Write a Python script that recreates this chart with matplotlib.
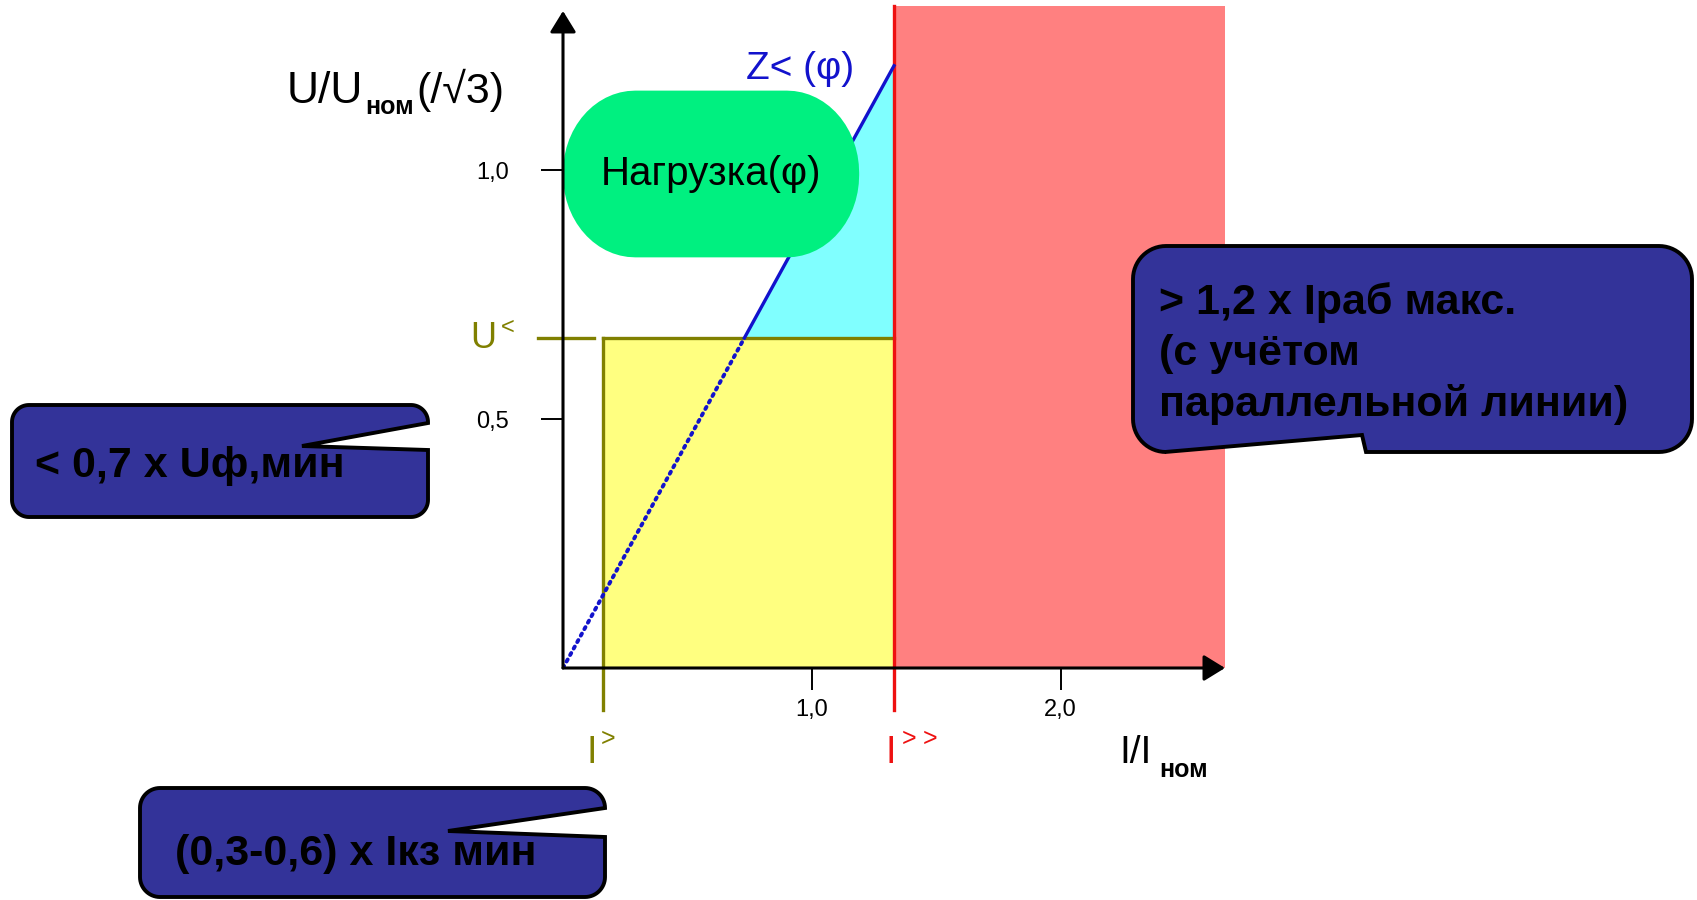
import numpy as np
import matplotlib
matplotlib.use('Agg')
import matplotlib.pyplot as plt
from matplotlib.patches import Polygon, Rectangle

plt.rcParams['font.family'] = ['Liberation Sans', 'DejaVu Sans']

W, H = 1697, 900

# settings in per-unit of nominal values
i_low = 0.16          # I>
i_high = 1.33         # I>>
u_low = 0.663         # U<
z_at_i_high = 1.21    # Z<(phi) characteristic at I>>
x_end = 2.66
y_end = 1.33

x_ticks = [1.0, 2.0]
x_tick_labels = ['1,0', '2,0']
y_ticks = [0.5, 1.0]
y_tick_labels = ['0,5', '1,0']

load_x = [0.0, 1.19]
load_y = [0.825, 1.16]

left_note = '< 0,7 x Uф,мин'
bottom_note = '(0,3-0,6) x Iкз мин'
right_note = ['> 1,2 x Iраб макс.', '(с учётом', 'параллельной линии)']

RED_FILL = '#FF8080'
RED = '#EE1111'
OLIVE = '#808000'
BLUE = '#1212CC'
CYAN = '#80FFFF'
YELLOW = '#FFFF80'
GREEN = '#00F080'
NAVY = '#333399'


def rounded(x0, y0, x1, y1, rx, ry, notch=None, after=None):
    # rectangle with elliptic corners, optional notch inserted after a corner
    centers = [(x1 - rx, y0 + ry, -90), (x1 - rx, y1 - ry, 0),
               (x0 + rx, y1 - ry, 90), (x0 + rx, y0 + ry, 180)]
    pts = []
    for i, (cx, cy, a) in enumerate(centers):
        t = np.radians(np.linspace(a, a + 90, 16))
        pts += list(zip(cx + rx * np.cos(t), cy + ry * np.sin(t)))
        if notch is not None and i == after:
            pts += notch
    return pts


fig = plt.figure(figsize=(W / 100, H / 100), dpi=100)

# main axes: origin at pixel (563, 668)
ax = fig.add_axes([563 / W, (H - 668) / H, (1225 - 563) / W, (668 - 6) / H])
ax.set_xlim(0, x_end)
ax.set_ylim(0, y_end)
ax.patch.set_visible(False)
for sp in ax.spines.values():
    sp.set_visible(False)

ax.set_xticks(x_ticks, x_tick_labels)
ax.set_yticks(y_ticks, y_tick_labels)
ax.tick_params(direction='out', length=16, width=1.4, labelsize=17, color='black')
ax.tick_params(axis='x', pad=6)
ax.tick_params(axis='y', pad=23)

# zones
slope = z_at_i_high / i_high
x_cross = u_low / slope
ax.add_patch(Rectangle((i_high, 0), x_end - i_high, y_end, fc=RED_FILL, ec='none',
                       zorder=1, clip_on=False))
ax.add_patch(Rectangle((i_low, 0), i_high - i_low, u_low, fc=YELLOW, ec='none', zorder=1))
ax.add_patch(Polygon([(x_cross, u_low), (i_high, u_low), (i_high, z_at_i_high)],
                     closed=True, fc=CYAN, ec='none', zorder=1))

# threshold lines
ax.plot([i_low, i_low], [-0.084, u_low], color=OLIVE, lw=2.4, clip_on=False, zorder=2)
ax.plot([i_low, i_high], [u_low, u_low], color=OLIVE, lw=2.4, zorder=2)
ax.plot([-0.1, 0.125], [u_low, u_low], color=OLIVE, lw=2.4, clip_on=False, zorder=2)
ax.plot([i_high, i_high], [-0.084, y_end], color=RED, lw=2.4, clip_on=False, zorder=3)

# Z< characteristic
ax.plot([0, x_cross], [0, u_low], color=BLUE, lw=2.8, ls=(0, (0.6, 1.3)),
        dash_capstyle='round', zorder=3)
ax.plot([x_cross, i_high], [u_low, z_at_i_high], color=BLUE, lw=2.4, zorder=3)

# load area (stadium-like box)
ax.add_patch(Polygon(rounded(load_x[0], load_y[0], load_x[1], load_y[1], 0.29, 0.165),
                     closed=True, fc=GREEN, ec='none', zorder=5, clip_on=False))
ax.text(sum(load_x) / 2, sum(load_y) / 2, 'Нагрузка(φ)', fontsize=29,
        ha='center', va='center', zorder=6)

# axes with arrow heads
arrow = dict(arrowstyle='-|>,head_length=0.65,head_width=0.4', color='black', lw=2.2,
             shrinkA=0, shrinkB=0, mutation_scale=20)
ax.annotate('', xy=(x_end, 0), xytext=(0, 0), arrowprops=arrow,
            annotation_clip=False, zorder=7)
ax.annotate('', xy=(0, 1.32), xytext=(0, 0), arrowprops=arrow,
            annotation_clip=False, zorder=7)


def label(s, xy, dx, dy, **kw):
    ax.annotate(s, xy=xy, xytext=(dx, dy), textcoords='offset pixels',
                annotation_clip=False, va='baseline', **kw)


label('Z< (φ)', (i_high, z_at_i_high), -94, -13, color=BLUE, fontsize=28, ha='center')
label('U', (0, u_low), -80, -10, color=OLIVE, fontsize=26, ha='center')
label('<', (0, u_low), -62, 4, color=OLIVE, fontsize=17, ha='left')
label('I', (i_low, 0), -11, -95, color=OLIVE, fontsize=27, ha='center')
label('>', (i_low, 0), -2, -78, color=OLIVE, fontsize=18, ha='left')
label('I', (i_high, 0), -3, -95, color=RED, fontsize=27, ha='center')
label('>', (i_high, 0), 8, -78, color=RED, fontsize=18, ha='left')
label('>', (i_high, 0), 29, -78, color=RED, fontsize=18, ha='left')

# overlay in pixel units for axis titles and callouts
ov = fig.add_axes([0, 0, 1, 1], zorder=10)
ov.set_xlim(0, W)
ov.set_ylim(H, 0)
ov.axis('off')

ov.text(287, 103, 'U/U', fontsize=32, va='baseline')
ov.text(365, 114, 'ном', fontsize=18, fontweight='bold', va='baseline')
ov.text(416, 103, '(/√3)', fontsize=31, va='baseline')
ov.text(1119, 763, 'I/I', fontsize=28, va='baseline')
ov.text(1159, 777, 'ном', fontsize=18, fontweight='bold', va='baseline')


def callout(x0, y0, x1, y1, r, after, notch):
    ov.add_patch(Polygon(rounded(x0, y0, x1, y1, r, r, notch, after), closed=True,
                         fc=NAVY, ec='black', lw=2.8))


callout(12, 405, 428, 517, 17, 0, [(428, 423), (302, 446), (428, 450)])
ov.text(35, 477, left_note, fontsize=31, fontweight='bold', va='baseline')

callout(140, 788, 605, 897, 20, 0, [(605, 808), (448, 831), (605, 837)])
ov.text(175, 865, bottom_note, fontsize=31, fontweight='bold', va='baseline')

callout(1133, 246, 1692, 452, 33, 1, [(1366, 452), (1362, 435), (1165, 452)])
for k, line in enumerate(right_note):
    ov.text(1159, 314 + 51 * k, line, fontsize=31, fontweight='bold', va='baseline')

fig.savefig('out.png', dpi=100)
